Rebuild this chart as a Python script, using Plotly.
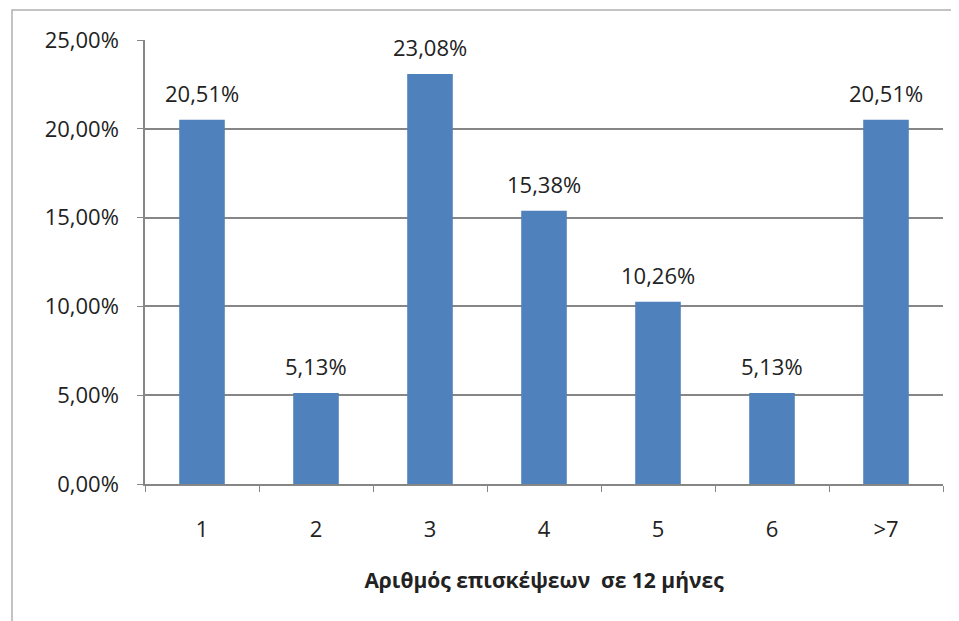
import plotly.graph_objects as go

categories = ['1', '2', '3', '4', '5', '6', '>7']
shares = [0.2051, 0.0513, 0.2308, 0.1538, 0.1026, 0.0513, 0.2051]
y_ticks = [0, 0.05, 0.10, 0.15, 0.20, 0.25]
x_title = 'Αριθμός επισκέψεων  σε 12 μήνες'

font = 'Open Sans, DejaVu Sans, sans-serif'
ink = '#222222'
axis_grey = '#868686'

fig = go.Figure()
fig.add_trace(go.Bar(
    x=categories, y=shares,
    marker=dict(color='#4F81BD', line=dict(width=0)),
    hovertemplate='%{x}: %{y:.2%}<extra></extra>',
))

# value labels above bars, Excel-like spacing
# (category labels like '1' would be read as an index, so use the position)
for i, val in enumerate(shares):
    fig.add_annotation(
        x=i, y=val, text=f"{val * 100:.2f}%".replace('.', ','),
        showarrow=False, yanchor='bottom', yshift=10,
        font=dict(size=22, color=ink, family=font),
    )

# outer chart frame
fig.add_shape(type='rect', xref='paper', yref='paper',
              x0=-0.1667, x1=1.0188, y0=-0.35, y1=1.0676,
              line=dict(color='#B0B0B0', width=1.5), layer='below')

fig.update_layout(
    width=951, height=613,
    margin=dict(l=137, r=16, t=32, b=137),
    plot_bgcolor='white', paper_bgcolor='white',
    separators=',.',
    bargap=0.6,
    showlegend=False,
    font=dict(family=font, size=22, color=ink),
)
fig.update_xaxes(
    type='category', showgrid=False,
    showline=True, linecolor=axis_grey, linewidth=1.5,
    ticks='outside', tickson='boundaries', ticklen=6, tickcolor=axis_grey,
    tickfont=dict(size=22), ticklabelstandoff=25,
    title=dict(text='<b>' + x_title + '</b>', font=dict(size=21), standoff=31),
)
fig.update_yaxes(
    range=[0, 0.25], tickvals=y_ticks, tickformat='.2%',
    showgrid=True, gridcolor=axis_grey, gridwidth=1.5,
    showline=True, linecolor=axis_grey, linewidth=1.5,
    ticks='outside', ticklen=6, tickcolor=axis_grey,
    tickfont=dict(size=22), ticklabelstandoff=14, zeroline=False,
)

fig.write_html('out.html')
